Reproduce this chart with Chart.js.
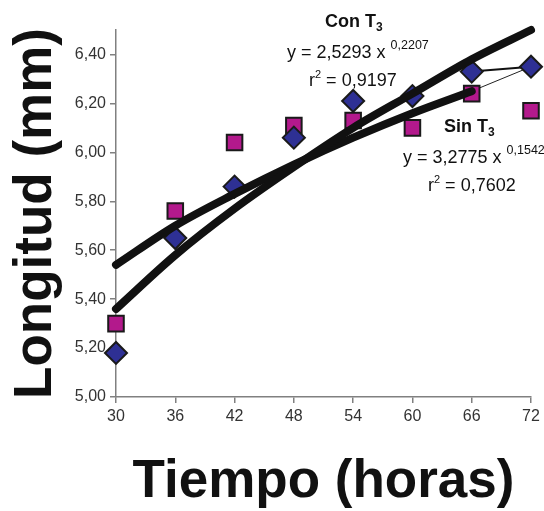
<!DOCTYPE html>
<html>
<head>
<meta charset="utf-8">
<script src="https://cdn.jsdelivr.net/npm/chart.js@4"></script>
<style>
  html, body { margin: 0; padding: 0; background: #fff; }
  #wrap { width: 544px; height: 511px; }
</style>
</head>
<body>
<div id="wrap"><canvas id="chart" width="544" height="511"></canvas></div>
<script>
// hours on the x axis
const hours = [30, 36, 42, 48, 54, 60, 66, 72];
const conT3 = [5.18, 5.65, 5.86, 6.06, 6.21, 6.23, 6.33, 6.35];
const sinT3 = [5.30, 5.76, 6.04, 6.11, 6.13, 6.10, 6.24, 6.17];
// power trendlines as drawn in the picture
const conTrend = [5.36, 5.58, 5.77, 5.94, 6.10, 6.24, 6.38, 6.50];
const sinTrendHours = [30, 36, 42, 48, 54, 60, 66];
const sinTrend = [5.54, 5.70, 5.83, 5.95, 6.06, 6.16, 6.25];
// the last two diamonds are joined by a line
const linkHours = [66, 72];
const linkVals = [6.33, 6.35];
// the odd thin segment from the end of the Sin T3 trend to the last diamond
const strayHours = [66, 72];
const strayVals = [6.25, 6.35];

const yTicks = [5.0, 5.2, 5.4, 5.6, 5.8, 6.0, 6.2, 6.4];

const FONT = '"Liberation Sans", Arial, sans-serif';
const pts = (xs, ys) => xs.map((x, i) => ({x: x, y: ys[i]}));

// draws the text notes (equations etc.) with sub/superscripts
const notes = {
  id: 'notes',
  afterDraw(chart) {
    const ctx = chart.ctx;
    ctx.save();
    ctx.fillStyle = '#111';
    ctx.textBaseline = 'alphabetic';
    ctx.textAlign = 'left';
    function run(x, y, parts) {
      parts.forEach(p => {
        ctx.font = (p.bold ? 'bold ' : '') + p.size + 'px ' + FONT;
        ctx.fillText(p.t, x, y + (p.dy || 0));
        x += ctx.measureText(p.t).width;
      });
    }
    run(325, 27, [{t: 'Con T', size: 18, bold: true}, {t: '3', size: 12, bold: true, dy: 4}]);
    run(287, 58, [{t: 'y = 2,5293 x ', size: 18}, {t: '0,2207', size: 12.5, dy: -9}]);
    run(309, 86, [{t: 'r', size: 18}, {t: '2', size: 11, dy: -8}, {t: ' = 0,9197', size: 18}]);
    run(444, 132, [{t: 'Sin T', size: 18, bold: true}, {t: '3', size: 12, bold: true, dy: 4}]);
    run(403, 163, [{t: 'y = 3,2775 x ', size: 18}, {t: '0,1542', size: 12.5, dy: -9}]);
    run(428, 191, [{t: 'r', size: 18}, {t: '2', size: 11, dy: -8}, {t: ' = 0,7602', size: 18}]);
    ctx.restore();
  }
};

new Chart(document.getElementById('chart'), {
  type: 'scatter',
  data: {
    datasets: [
      {
        label: 'Con T3 trend', data: pts(hours, conTrend), showLine: true,
        borderColor: '#111', borderWidth: 8, borderCapStyle: 'round',
        cubicInterpolationMode: 'monotone', pointRadius: 0, clip: false, order: 0
      },
      {
        label: 'Sin T3 trend', data: pts(sinTrendHours, sinTrend), showLine: true,
        borderColor: '#111', borderWidth: 8, borderCapStyle: 'round',
        cubicInterpolationMode: 'monotone', pointRadius: 0, clip: false, order: 0
      },
      {
        label: 'stray', data: pts(strayHours, strayVals), showLine: true,
        borderColor: '#222', borderWidth: 1, pointRadius: 0, clip: false, order: 3
      },
      {
        label: 'link', data: pts(linkHours, linkVals), showLine: true,
        borderColor: '#111', borderWidth: 2, pointRadius: 0, clip: false, order: 3
      },
      {
        label: 'Con T3', data: pts(hours, conT3),
        pointStyle: 'rectRot', pointRadius: 11, pointHoverRadius: 11,
        pointBackgroundColor: '#2e3094', pointBorderColor: '#1a1a1a', pointBorderWidth: 2,
        clip: false, order: 2
      },
      {
        label: 'Sin T3', data: pts(hours, sinT3),
        pointStyle: 'rect', pointRadius: 11, pointHoverRadius: 11,
        pointBackgroundColor: '#b3198c', pointBorderColor: '#1a1a1a', pointBorderWidth: 2,
        clip: false, order: 2
      }
    ]
  },
  options: {
    responsive: false,
    animation: false,
    events: [],
    layout: { padding: { top: 30, right: 9, left: 0, bottom: 0 } },
    plugins: { legend: { display: false }, tooltip: { enabled: false } },
    scales: {
      x: {
        type: 'linear', min: 30, max: 72,
        afterFit: s => { s.height = 114; },
        ticks: {
          stepSize: 6, color: '#333', padding: 4,
          font: { family: FONT, size: 16 }
        },
        grid: { drawOnChartArea: false, drawTicks: true, tickLength: 6, color: '#808080', lineWidth: 1.5 },
        border: { color: '#808080', width: 1.5 },
        title: {
          display: true, text: 'Tiempo (horas)', color: '#111',
          font: { family: FONT, size: 53, weight: 'bold', lineHeight: 1 },
          padding: { top: 0, bottom: 2 }
        }
      },
      y: {
        type: 'linear', min: 5, max: 6.5,
        afterFit: s => { s.width = 116; },
        afterBuildTicks: s => { s.ticks = yTicks.map(v => ({value: v})); },
        ticks: {
          color: '#333', padding: 4,
          font: { family: FONT, size: 16 },
          callback: v => v.toFixed(2).replace('.', ',')
        },
        grid: { drawOnChartArea: false, drawTicks: true, tickLength: 6, color: '#808080', lineWidth: 1.5 },
        border: { color: '#808080', width: 1.5 },
        title: {
          display: true, text: 'Longitud (mm)', color: '#111',
          font: { family: FONT, size: 53, weight: 'bold', lineHeight: 1 },
          padding: { top: 10, bottom: 0 }
        }
      }
    }
  },
  plugins: [notes]
});
</script>
</body>
</html>
